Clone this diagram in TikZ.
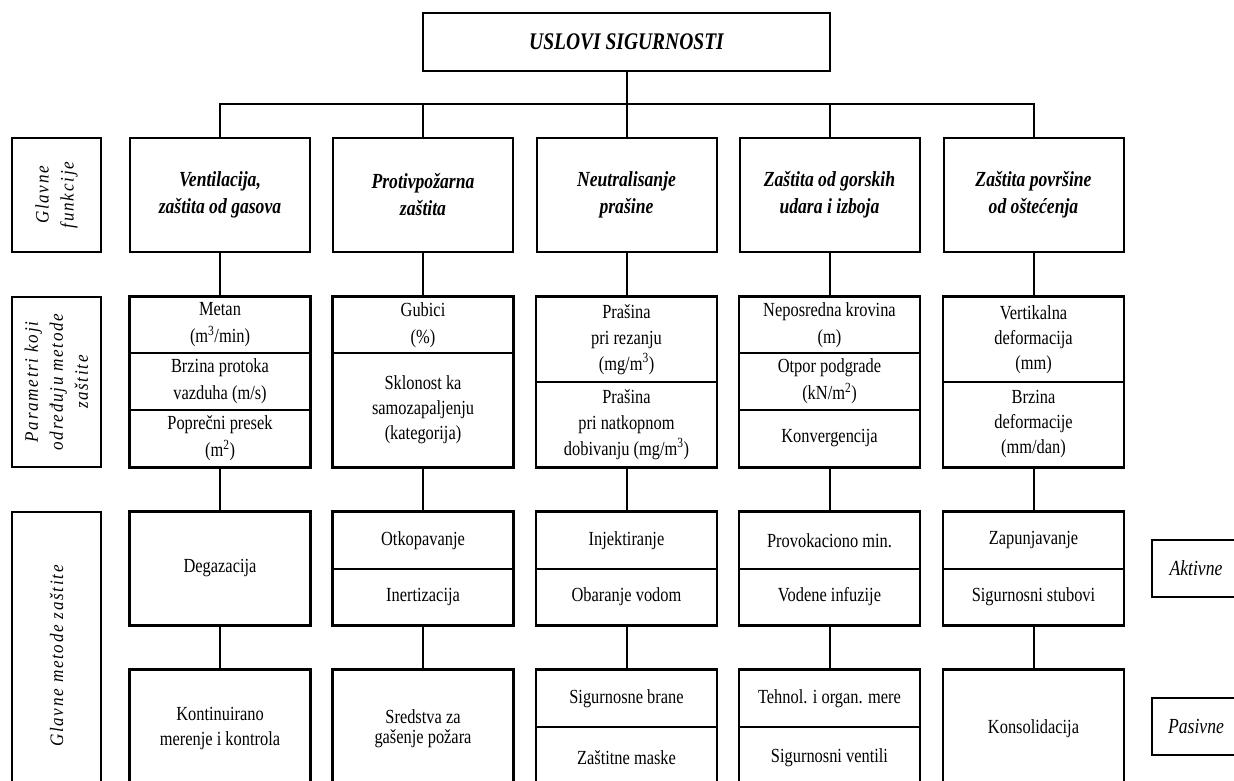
\documentclass[tikz,border=0pt]{standalone}
\usepackage{fontspec}
\setmainfont{Liberation Serif}[FakeStretch=0.82]
\newfontfamily\lblfont{Liberation Serif}[LetterSpace=9,FakeStretch=0.9]
\begin{document}
\begin{tikzpicture}[x=1pt,y=-1pt,
  cell/.style={draw, line width=1.2pt, rectangle, minimum width=180pt, inner sep=0pt, align=center, font=\fontsize{20}{27}\selectfont},
  frame/.style={draw, line width=2pt},
  head/.style={draw, line width=2pt, rectangle, minimum width=180pt, minimum height=114pt, inner sep=0pt, align=center, font=\fontsize{21.5}{27}\selectfont\bfseries\itshape},
  lbl/.style={draw, line width=2pt, rectangle, rotate=90, minimum height=89pt, inner sep=0pt, align=center, font=\lblfont\fontsize{19}{25}\selectfont\itshape},
  side/.style={draw, line width=2pt, rectangle, minimum width=88pt, minimum height=57pt, inner sep=0pt, font=\fontsize{21.5}{25}\selectfont\itshape},
  conn/.style={line width=2pt}]
\useasboundingbox (0,0) rectangle (1234,781);
\clip (0,0) rectangle (1234,781);
\fill[white] (0,0) rectangle (1234,781);

% title
\node[draw, line width=2pt, minimum width=407pt, minimum height=58pt, inner sep=0pt,
  font=\fontsize{23.8}{27}\selectfont\bfseries\itshape] (title) at (626.5,42) {USLOVI SIGURNOSTI};
\coordinate (bus) at (626.5,104);

% left labels
\node[lbl, minimum width=114pt] (L1) at (56.5,195) {Glavne\\funkcije};
\node[lbl, minimum width=170pt] (L2) at (56.5,382) {Parametri koji\\određuju metode\\zaštite};
\node[lbl, minimum width=288pt] (L3) at (56.5,656) {Glavne metode zaštite};

% headings
\node[head] (h1) at (220,195) {Ventilacija,\\zaštita od gasova};
\node[head] (h2) at (423,195) {Protivpožarna\\zaštita};
\node[head] (h3) at (626.5,195) {Neutralisanje\\prašine};
\node[head] (h4) at (829.5,195) {Zaštita od gorskih\\udara i izboja};
\node[head] (h5) at (1033.5,195) {Zaštita površine\\od oštećenja};

% parameters
\node[cell, minimum height=56pt] (p1a) at (220,325) {Metan\\(m\textsuperscript{3}/min)};
\node[cell, minimum height=57pt] (p1b) at (220,381.5) {Brzina protoka\\vazduha (m/s)};
\node[cell, minimum height=57pt] (p1c) at (220,438.5) {Poprečni presek\\(m\textsuperscript{2})};
\node[cell, minimum height=56pt] (p2a) at (423,325) {Gubici\\(\%)};
\node[cell, minimum height=114pt, font=\fontsize{20}{25}\selectfont] (p2b) at (423,410) {Sklonost ka\\samozapaljenju\\(kategorija)};
\node[cell, minimum height=85pt, font=\fontsize{20}{26}\selectfont] (p3a) at (626.5,339.5) {Prašina\\pri rezanju\\(mg/m\textsuperscript{3})};
\node[cell, minimum height=85pt, font=\fontsize{20}{26}\selectfont] (p3b) at (626.5,424.5) {Prašina\\pri natkopnom\\dobivanju (mg/m\textsuperscript{3})};
\node[cell, minimum height=56pt] (p4a) at (829.5,325) {Neposredna krovina\\(m)};
\node[cell, minimum height=57pt] (p4b) at (829.5,381.5) {Otpor podgrade\\(kN/m\textsuperscript{2})};
\node[cell, minimum height=57pt] (p4c) at (829.5,438.5) {Konvergencija};
\node[cell, minimum height=85pt, font=\fontsize{20}{25}\selectfont] (p5a) at (1033.5,339.5) {Vertikalna\\deformacija\\(mm)};
\node[cell, minimum height=85pt, font=\fontsize{20}{25}\selectfont] (p5b) at (1033.5,424.5) {Brzina\\deformacije\\(mm/dan)};

% active methods
\node[cell, minimum height=113pt] (m1) at (220,568.5) {Degazacija};
\node[cell, minimum height=57pt] (m2a) at (423,540.5) {Otkopavanje};
\node[cell, minimum height=56pt] (m2b) at (423,597) {Inertizacija};
\node[cell, minimum height=57pt] (m3a) at (626.5,540.5) {Injektiranje};
\node[cell, minimum height=56pt] (m3b) at (626.5,597) {Obaranje vodom};
\node[cell, minimum height=57pt] (m4a) at (829.5,540.5) {Provokaciono min.};
\node[cell, minimum height=56pt] (m4b) at (829.5,597) {Vodene infuzije};
\node[cell, minimum height=57pt] (m5a) at (1033.5,540.5) {Zapunjavanje};
\node[cell, minimum height=56pt] (m5b) at (1033.5,597) {Sigurnosni stubovi};

% passive methods
\node[cell, minimum height=118pt, font=\fontsize{20}{25}\selectfont] (n1) at (220,729) {Kontinuirano\\merenje i kontrola};
\node[cell, minimum height=118pt, font=\fontsize{20}{20}\selectfont] (n2) at (423,729) {Sredstva za\\gašenje požara};
\node[cell, minimum height=57pt] (n3a) at (626.5,698.5) {Sigurnosne brane};
\node[cell, minimum height=61pt] (n3b) at (626.5,757.5) {Zaštitne maske};
\node[cell, minimum height=57pt] (n4a) at (829.5,698.5) {Tehnol. i organ. mere};
\node[cell, minimum height=61pt] (n4b) at (829.5,757.5) {Sigurnosni ventili};
\node[cell, minimum height=118pt] (n5) at (1033.5,729) {Konsolidacija};

% outer frames
\draw[frame] (p1a.north west) rectangle (p1c.south east);
\draw[frame] (p2a.north west) rectangle (p2b.south east);
\draw[frame] (p3a.north west) rectangle (p3b.south east);
\draw[frame] (p4a.north west) rectangle (p4c.south east);
\draw[frame] (p5a.north west) rectangle (p5b.south east);
\draw[frame] (m1.north west) rectangle (m1.south east);
\draw[frame] (m2a.north west) rectangle (m2b.south east);
\draw[frame] (m3a.north west) rectangle (m3b.south east);
\draw[frame] (m4a.north west) rectangle (m4b.south east);
\draw[frame] (m5a.north west) rectangle (m5b.south east);
\draw[frame] (n1.north west) rectangle (n1.south east);
\draw[frame] (n2.north west) rectangle (n2.south east);
\draw[frame] (n3a.north west) rectangle (n3b.south east);
\draw[frame] (n4a.north west) rectangle (n4b.south east);
\draw[frame] (n5.north west) rectangle (n5.south east);

% side labels
\node[side] (akt) at (1196,568.5) {Aktivne};
\node[side] (pas) at (1196,726.5) {Pasivne};

% connectors
\draw[conn] (title.south) -- (bus);
\draw[conn] (h1.north) -- (h1.north |- bus) -- (h5.north |- bus) -- (h5.north);
\draw[conn] (h2.north) -- (h2.north |- bus);
\draw[conn] (h3.north) -- (h3.north |- bus);
\draw[conn] (h4.north) -- (h4.north |- bus);
\draw[conn] (h1.south) -- (p1a.north);
\draw[conn] (h2.south) -- (p2a.north);
\draw[conn] (h3.south) -- (p3a.north);
\draw[conn] (h4.south) -- (p4a.north);
\draw[conn] (h5.south) -- (p5a.north);
\draw[conn] (p1c.south) -- (m1.north);
\draw[conn] (p2b.south) -- (m2a.north);
\draw[conn] (p3b.south) -- (m3a.north);
\draw[conn] (p4c.south) -- (m4a.north);
\draw[conn] (p5b.south) -- (m5a.north);
\draw[conn] (m1.south) -- (n1.north);
\draw[conn] (m2b.south) -- (n2.north);
\draw[conn] (m3b.south) -- (n3a.north);
\draw[conn] (m4b.south) -- (n4a.north);
\draw[conn] (m5b.south) -- (n5.north);
\end{tikzpicture}
\end{document}
